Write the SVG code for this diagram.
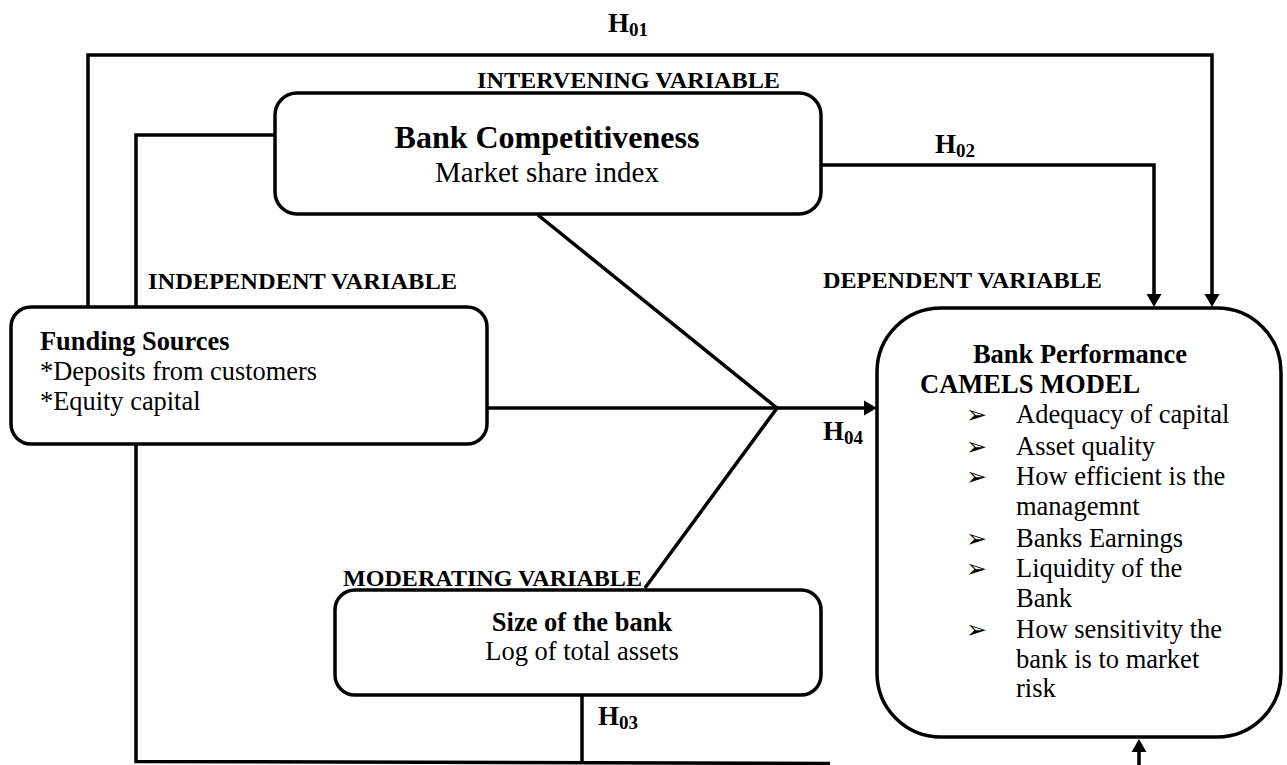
<svg xmlns="http://www.w3.org/2000/svg" width="1287" height="765" viewBox="0 0 1287 765">
<defs>
<style>
.box{fill:#fff;stroke:#000;stroke-width:3.5}
.ln{fill:none;stroke:#000;stroke-width:3.5;stroke-linejoin:miter}
.t{font-family:"Liberation Serif","Times New Roman",serif;fill:#000}
.b{font-weight:bold}
.lbl{font-family:"Liberation Serif","Times New Roman",serif;font-weight:bold;font-size:23.5px;fill:#000}
.h{font-family:"Liberation Serif","Times New Roman",serif;font-weight:bold;font-size:27px;fill:#000}
.sub{font-size:19px}
.bul{font-family:"DejaVu Sans",sans-serif;font-size:25px;fill:#000}
</style>
<marker id="ah" markerUnits="userSpaceOnUse" markerWidth="14" markerHeight="16" refX="7" refY="8" orient="auto">
<path d="M0,0.5 L13,8 L0,15.5 z" fill="#000"/>
</marker>
</defs>
<rect width="1287" height="765" fill="#fff"/>

<g id="connectors">
<path class="ln" d="M88,307 V55 H1212 V301" marker-end="url(#ah)"/>
<path class="ln" d="M275,135 H136 V307"/>
<path class="ln" d="M136,444 V761.5 L830,763.5"/>
<path class="ln" d="M582,695 V762"/>
<path class="ln" d="M820,165 H1154 V301" marker-end="url(#ah)"/>
<path class="ln" d="M538,215 L777,408 L645,588"/>
<path class="ln" d="M487,408 H871" marker-end="url(#ah)"/>
<path class="ln" d="M1139,765 V745" marker-end="url(#ah)"/>
</g>

<g id="labels">
<text class="h" x="608" y="32">H<tspan class="sub" dy="4">01</tspan></text>
<text class="h" x="935" y="153">H<tspan class="sub" dy="4">02</tspan></text>
<text class="h" x="598" y="725">H<tspan class="sub" dy="4">03</tspan></text>
<text class="h" x="823" y="440">H<tspan class="sub" dy="4">04</tspan></text>
<text class="lbl" x="477" y="88" textLength="303" lengthAdjust="spacingAndGlyphs">INTERVENING VARIABLE</text>
<text class="lbl" x="148" y="289" textLength="309" lengthAdjust="spacingAndGlyphs">INDEPENDENT VARIABLE</text>
<text class="lbl" x="823" y="288" textLength="279" lengthAdjust="spacingAndGlyphs">DEPENDENT VARIABLE</text>
<text class="lbl" x="343" y="586" textLength="299" lengthAdjust="spacingAndGlyphs">MODERATING VARIABLE</text>
</g>

<g id="bank-competitiveness">
<rect class="box" x="275" y="93" width="546" height="121" rx="22" ry="22"/>
<text class="t b" x="547" y="148" font-size="32" text-anchor="middle">Bank Competitiveness</text>
<text class="t" x="547" y="182" font-size="29" text-anchor="middle">Market share index</text>
</g>

<g id="funding-sources">
<rect class="box" x="11" y="307" width="476" height="137" rx="20" ry="20"/>
<text class="t b" x="40" y="350" font-size="26.4">Funding Sources</text>
<text class="t" x="40" y="380" font-size="26.4">*Deposits from customers</text>
<text class="t" x="40" y="410" font-size="26.4">*Equity capital</text>
</g>

<g id="size-of-bank">
<rect class="box" x="335" y="590" width="486" height="105" rx="20" ry="20"/>
<text class="t b" x="582" y="631" font-size="26.5" text-anchor="middle">Size of the bank</text>
<text class="t" x="582" y="660" font-size="26.5" text-anchor="middle">Log of total assets</text>
</g>

<g id="bank-performance">
<rect class="box" x="877" y="308" width="404" height="429" rx="64" ry="64"/>
<text class="t b" x="1080" y="363" font-size="26.5" text-anchor="middle">Bank Performance</text>
<text class="t b" x="920" y="393" font-size="26.5">CAMELS MODEL</text>
<g class="bul">
<text x="966" y="423">➢</text>
<text x="966" y="455">➢</text>
<text x="966" y="485">➢</text>
<text x="966" y="547">➢</text>
<text x="966" y="577">➢</text>
<text x="966" y="638">➢</text>
</g>
<g class="t" font-size="26.5">
<text x="1016" y="423">Adequacy of capital</text>
<text x="1016" y="455">Asset quality</text>
<text x="1016" y="485">How efficient is the</text>
<text x="1016" y="515">managemnt</text>
<text x="1016" y="547">Banks Earnings</text>
<text x="1016" y="577">Liquidity of the</text>
<text x="1016" y="607">Bank</text>
<text x="1016" y="638">How sensitivity the</text>
<text x="1016" y="668">bank is to market</text>
<text x="1016" y="697">risk</text>
</g>
</g>
</svg>
